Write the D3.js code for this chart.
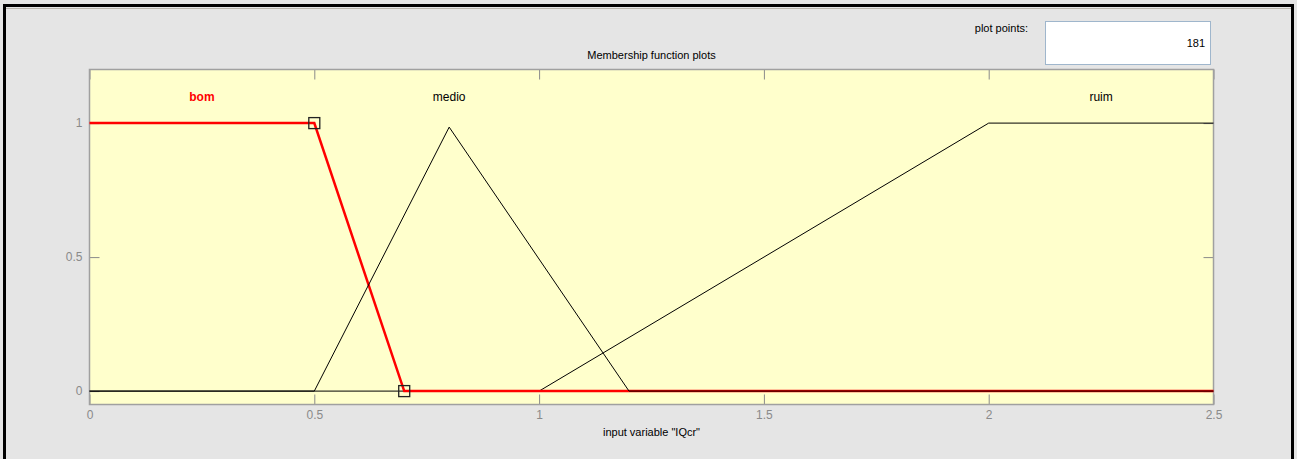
<!DOCTYPE html>
<html>
<head>
<meta charset="utf-8">
<script src="https://cdn.jsdelivr.net/npm/d3@7"></script>
<style>
	body { margin: 0; background: #fff; overflow: hidden; }
	text { font-family: "Liberation Sans", Arial, sans-serif; }
</style>
</head>
<body>
<svg id="mf-plot" width="1297" height="459"></svg>
<script>

// membership function breakpoints for input variable "IQcr"
const MF_NAMES = ['bom', 'medio', 'ruim'];
const BOM_X = [0, 0.5, 0.7, 2.5];
const BOM_Y = [1, 1, 0, 0];
const MEDIO_X = [0, 0.5, 0.8, 1.2, 2.5];
const MEDIO_Y = [0, 0, 0.985, 0, 0];
const RUIM_X = [0, 1, 2, 2.5];
const RUIM_Y = [0, 0, 1, 1];
// where each name label sits (x in data units)
const LABEL_X = [0.25, 0.8, 2.25];
// handles of the selected mf (bom)
const HANDLE_X = [0.5, 0.7];
const HANDLE_Y = [1, 0];

const X_TICKS = [0, 0.5, 1, 1.5, 2, 2.5];
const Y_TICKS = [0, 0.5, 1];
const PLOT_POINTS = '181';

const svg = d3.select('#mf-plot');

// figure background and window frame
svg.append('rect').attr('width', 1297).attr('height', 459).attr('fill', '#e5e5e5');
svg.append('rect')
	.attr('x', 4.5).attr('y', 5.5).attr('width', 1288).attr('height', 470)
	.attr('fill', 'none').attr('stroke', '#000').attr('stroke-width', 3);
svg.append('line')
	.attr('x1', 6).attr('x2', 1291).attr('y1', 8.5).attr('y2', 8.5)
	.attr('stroke', '#b8b4ac').attr('stroke-width', 1);

const ax_left = 89.5, ax_right = 1213.5, ax_top = 69.5, ax_bottom = 404.5;

const x = d3.scaleLinear().domain([0, 2.5]).range([ax_left, ax_right]);
const y = d3.scaleLinear().domain([-0.05, 1.2]).range([ax_bottom, ax_top]);

svg.append('rect')
	.attr('x', ax_left).attr('y', ax_top)
	.attr('width', ax_right - ax_left).attr('height', ax_bottom - ax_top)
	.attr('fill', '#ffffcc');

// axes with inward ticks on all four sides
const tick_len = 10;
const tickStyle = g => {
	g.select('.domain').remove();
	g.selectAll('.tick line').attr('stroke', '#8a8a8a');
	g.selectAll('.tick text').attr('fill', '#8a8a8a').attr('font-size', 12);
};

svg.append('g')
	.attr('transform', `translate(0,${ax_bottom})`)
	.call(d3.axisBottom(x).tickValues(X_TICKS).tickFormat(d3.format('')).tickSizeInner(-tick_len).tickPadding(6))
	.call(tickStyle);
svg.append('g')
	.attr('transform', `translate(0,${ax_top})`)
	.call(d3.axisTop(x).tickValues(X_TICKS).tickFormat('').tickSizeInner(-tick_len))
	.call(tickStyle);
svg.append('g')
	.attr('transform', `translate(${ax_left},0)`)
	.call(d3.axisLeft(y).tickValues(Y_TICKS).tickFormat(d3.format('')).tickSizeInner(-tick_len).tickPadding(7))
	.call(tickStyle);
svg.append('g')
	.attr('transform', `translate(${ax_right},0)`)
	.call(d3.axisRight(y).tickValues(Y_TICKS).tickFormat('').tickSizeInner(-tick_len))
	.call(tickStyle);

svg.append('rect')
	.attr('x', ax_left).attr('y', ax_top)
	.attr('width', ax_right - ax_left).attr('height', ax_bottom - ax_top)
	.attr('fill', 'none').attr('stroke', '#a0a0a0').attr('stroke-width', 1.5);

// membership function curves
const line = d3.line().x(d => x(d[0])).y(d => y(d[1]));
const mf_data = {
	bom: d3.zip(BOM_X, BOM_Y),
	medio: d3.zip(MEDIO_X, MEDIO_Y),
	ruim: d3.zip(RUIM_X, RUIM_Y)
};

// order decides what is on top
svg.append('path').datum(mf_data.ruim).attr('d', line)
	.attr('fill', 'none').attr('stroke', '#000').attr('stroke-width', 1);
svg.append('path').datum(mf_data.bom).attr('d', line)
	.attr('fill', 'none').attr('stroke', '#ff0000').attr('stroke-width', 2.5);
svg.append('path').datum(mf_data.medio).attr('d', line)
	.attr('fill', 'none').attr('stroke', '#000').attr('stroke-width', 1);

svg.append('g')
	.selectAll('rect')
	.data(d3.zip(HANDLE_X, HANDLE_Y))
	.enter()
	.append('rect')
		.attr('x', d => x(d[0]) - 5.5)
		.attr('y', d => y(d[1]) - 5.5)
		.attr('width', 11).attr('height', 11)
		.attr('fill', 'none').attr('stroke', '#222').attr('stroke-width', 1.3);

// mf names
svg.append('g')
	.selectAll('text')
	.data(MF_NAMES)
	.enter()
	.append('text')
		.text(d => d)
		.attr('x', (d, i) => x(LABEL_X[i]))
		.attr('y', 101)
		.attr('text-anchor', 'middle')
		.attr('font-size', 12)
		.attr('font-weight', (d, i) => i === 0 ? 'bold' : 'normal')
		.attr('fill', (d, i) => i === 0 ? '#ff0000' : '#000');

// title and x label
svg.append('text')
	.text('Membership function plots')
	.attr('x', (ax_left + ax_right) / 2).attr('y', 59)
	.attr('text-anchor', 'middle').attr('font-size', 11).attr('fill', '#000');
svg.append('text')
	.text('input variable "IQcr"')
	.attr('x', (ax_left + ax_right) / 2).attr('y', 436)
	.attr('text-anchor', 'middle').attr('font-size', 11).attr('fill', '#000');

// plot points box
svg.append('text')
	.text('plot points:')
	.attr('x', 1028).attr('y', 32)
	.attr('text-anchor', 'end').attr('font-size', 11).attr('fill', '#000');
svg.append('rect')
	.attr('x', 1045.5).attr('y', 21.5).attr('width', 165).attr('height', 43)
	.attr('fill', '#fff').attr('stroke', '#9fb6cc').attr('stroke-width', 1);
svg.append('text')
	.text(PLOT_POINTS)
	.attr('x', 1205).attr('y', 47)
	.attr('text-anchor', 'end').attr('font-size', 11).attr('fill', '#000');

</script>
</body>
</html>
